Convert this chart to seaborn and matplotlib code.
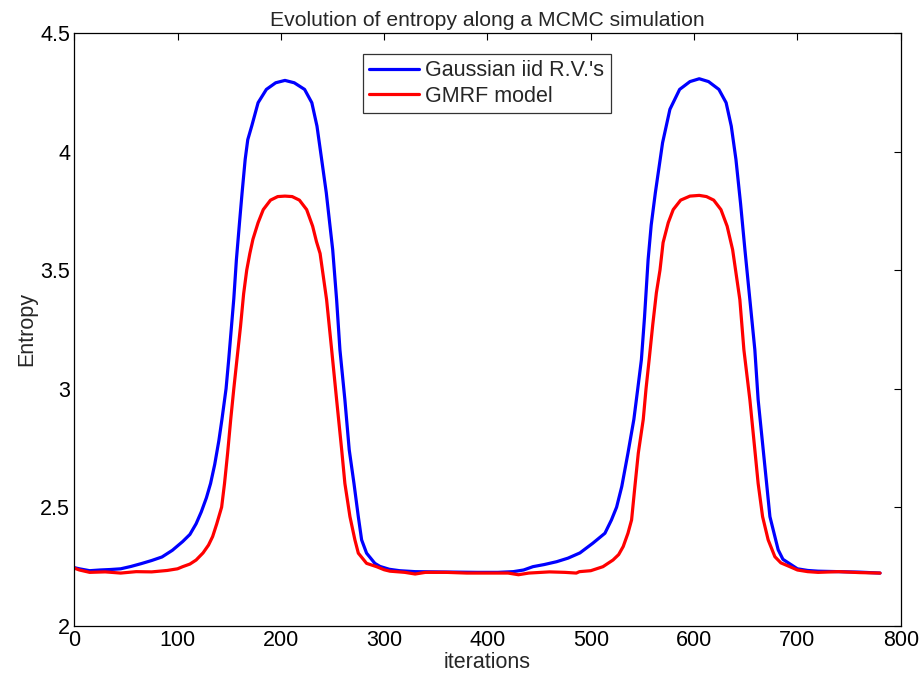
import matplotlib
matplotlib.use('Agg')
from matplotlib import pyplot as plt
import seaborn as sns
import pandas as pd

# values
blue_x = [0, 5, 15, 25, 35, 45, 55, 65, 75, 85, 95, 105, 112, 118, 123, 128, 132, 136, 140, 143,
          147, 149.5, 152, 154.5, 157, 160, 162.5, 165.5, 168, 172, 178, 186, 195, 204, 213, 223,
          230, 235, 239.5, 244, 247.5, 250.2, 254, 257.2, 262, 266.2, 270.8, 275, 278.2, 283, 291,
          296, 305, 315, 330, 350, 370, 390, 410, 425, 435, 444, 455, 467, 478, 489.5, 502, 513.7,
          520, 525, 530, 536, 541.7, 545.5, 549, 552, 555.5, 558.5, 562.5, 569.5, 576.6, 586, 596,
          605, 614, 624, 631, 636, 640.5, 645, 649.2, 654, 658.8, 662, 666.9, 670.2, 673.4, 678.2,
          681.4, 686, 694.4, 700, 710, 720, 740, 760, 780]
blue_y = [2.245, 2.24, 2.232, 2.235, 2.237, 2.24, 2.25, 2.262, 2.275, 2.29, 2.318, 2.355, 2.385,
          2.43, 2.48, 2.54, 2.6, 2.68, 2.78, 2.87, 3.0, 3.12, 3.25, 3.38, 3.544, 3.7, 3.826, 3.967,
          4.05, 4.11, 4.206, 4.262, 4.29, 4.30, 4.29, 4.262, 4.206, 4.107, 3.967, 3.826, 3.69,
          3.586, 3.375, 3.164, 2.953, 2.742, 2.60, 2.46, 2.362, 2.306, 2.263, 2.25, 2.238, 2.232,
          2.228, 2.227, 2.226, 2.225, 2.225, 2.228, 2.235, 2.249, 2.258, 2.27, 2.285, 2.307, 2.348,
          2.39, 2.446, 2.5, 2.587, 2.728, 2.87, 3.0, 3.122, 3.3, 3.544, 3.69, 3.826, 4.037, 4.178,
          4.262, 4.295, 4.307, 4.295, 4.262, 4.206, 4.107, 3.967, 3.78, 3.586, 3.375, 3.164, 2.953,
          2.742, 2.60, 2.46, 2.376, 2.32, 2.28, 2.256, 2.24, 2.233, 2.23, 2.228, 2.226, 2.222]

red_x = [0, 5, 15, 30, 45, 60, 75, 90, 100, 105, 112, 118, 124.7, 130, 134, 138, 142.7, 145.5,
         148.5, 151.5, 154.5, 157.5, 161, 164, 167, 170, 173, 178, 183, 190, 197, 204, 211, 218,
         225, 230.8, 234.5, 238, 244.3, 249.2, 254, 258.9, 262, 266.9, 271.7, 275, 283, 292.7, 300,
         305.6, 320, 330, 340, 360, 380, 400, 420, 430, 440, 460, 475, 486, 489, 500, 511.8, 521.5,
         527, 531.4, 536, 539.5, 542.7, 546, 550.8, 553.5, 556.5, 560, 563.5, 567, 570, 575, 579.8,
         587, 596, 605, 612, 619, 626, 632, 637.3, 644.3, 648.2, 654, 658.8, 662, 666.3, 671.7,
         678.2, 684, 692.7, 700, 710, 720, 740, 760, 780]
red_y = [2.243, 2.235, 2.225, 2.227, 2.222, 2.228, 2.227, 2.233, 2.24, 2.249, 2.26, 2.277, 2.307,
         2.34, 2.376, 2.43, 2.5, 2.6, 2.728, 2.87, 3.0, 3.122, 3.263, 3.4, 3.5, 3.57, 3.63, 3.7,
         3.755, 3.795, 3.81, 3.812, 3.81, 3.795, 3.755, 3.685, 3.62, 3.57, 3.375, 3.164, 2.953,
         2.742, 2.60, 2.46, 2.362, 2.306, 2.263, 2.249, 2.236, 2.23, 2.225, 2.218, 2.225, 2.225,
         2.222, 2.222, 2.222, 2.215, 2.222, 2.227, 2.225, 2.222, 2.228, 2.232, 2.249, 2.277, 2.3,
         2.334, 2.39, 2.446, 2.587, 2.728, 2.87, 3.0, 3.122, 3.27, 3.404, 3.5, 3.616, 3.7, 3.755,
         3.795, 3.812, 3.815, 3.81, 3.795, 3.755, 3.685, 3.586, 3.375, 3.164, 2.953, 2.742, 2.60,
         2.46, 2.362, 2.291, 2.265, 2.249, 2.235, 2.228, 2.225, 2.228, 2.224, 2.222]

labels = ["Gaussian iid R.V.'s", "GMRF model"]

df = pd.concat([
    pd.DataFrame({'iterations': blue_x, 'Entropy': blue_y, 'model': labels[0]}),
    pd.DataFrame({'iterations': red_x, 'Entropy': red_y, 'model': labels[1]}),
])

sns.set_style('white')
plt.rcParams['font.family'] = ['Liberation Sans', 'DejaVu Sans']

fig = plt.figure(figsize=(9.24, 6.76), dpi=100)
ax = fig.add_axes([0.0803, 0.0744, 0.8945, 0.8768])

sns.lineplot(data=df, x='iterations', y='Entropy', hue='model', estimator=None,
             palette={labels[0]: '#0000ff', labels[1]: '#ff0000'}, linewidth=2.3, ax=ax)

ax.set_xlim(0, 800)
ax.set_ylim(2, 4.5)
ax.set_xticks(range(0, 801, 100))
ax.set_yticks([2, 2.5, 3, 3.5, 4, 4.5])
ax.set_yticklabels(['2', '2.5', '3', '3.5', '4', '4.5'])
ax.tick_params(direction='in', length=5, width=0.8, top=True, right=True,
               labelsize=15.5, colors='black', pad=3)
for s in ax.spines.values():
    s.set_color('black')
    s.set_linewidth(0.9)

ax.set_title('Evolution of entropy along a MCMC simulation', fontsize=15.2, pad=5)
ax.set_xlabel('iterations', fontsize=15.5, labelpad=1)
ax.set_ylabel('Entropy', fontsize=15.5, labelpad=2)

leg = ax.legend(loc='upper left', bbox_to_anchor=(0.349, 0.9646), borderaxespad=0,
                fontsize=15.5, frameon=True, fancybox=False, handlelength=2.3,
                handletextpad=0.3, borderpad=0.3, labelspacing=0.2)
leg.get_frame().set_edgecolor('black')
leg.get_frame().set_linewidth(0.9)

fig.savefig('out.png', dpi=100)
